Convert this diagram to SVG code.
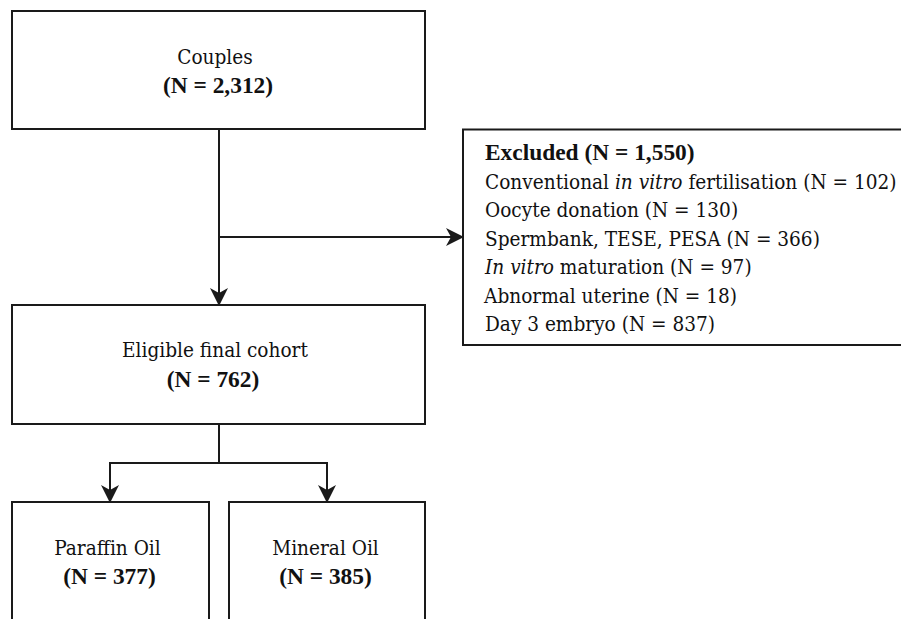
<svg xmlns="http://www.w3.org/2000/svg" width="901" height="619" viewBox="0 0 901 619">
<style>
.box{fill:#fff;stroke:#1a1a1a;stroke-width:2}
.ln{fill:none;stroke:#1a1a1a;stroke-width:2}
text{font-family:"DejaVu Serif Condensed","DejaVu Serif",serif;font-stretch:condensed;font-size:20.6px;fill:#111}
.c{text-anchor:middle}
.b{font-family:"Liberation Serif","DejaVu Serif",serif;font-stretch:normal;font-size:23.4px;font-weight:700}
.i{font-style:italic}
</style>
<defs>
<marker id="ah" markerUnits="userSpaceOnUse" viewBox="0 0 18 18" refX="17" refY="9" markerWidth="18" markerHeight="18" orient="auto">
<path d="M0,0 L18,9 L0,18 L5,9 Z" fill="#1a1a1a"/>
</marker>
</defs>
<rect width="901" height="619" fill="#fff"/>
<g id="connectors">
<path class="ln" d="M219,129 V305" marker-end="url(#ah)"/>
<path class="ln" d="M219,237 H463" marker-end="url(#ah)"/>
<path class="ln" d="M219,424 V463 H110 V502" marker-end="url(#ah)"/>
<path class="ln" d="M219,463 H327 V502" marker-end="url(#ah)"/>
</g>
<g id="couples">
<rect class="box" x="12" y="11" width="413" height="118"/>
<text class="c" x="215" y="63.5">Couples</text>
<text class="c b" x="218" y="93">(N = 2,312)</text>
</g>
<g id="excluded">
<rect class="box" x="463" y="129.5" width="460" height="215.5"/>
<text class="b" x="485" y="160">Excluded (N = 1,550)</text>
<text x="485" y="188.5">Conventional <tspan class="i">in vitro</tspan> fertilisation (N = 102)</text>
<text x="485" y="217">Oocyte donation (N = 130)</text>
<text x="485" y="245.5">Spermbank, TESE, PESA (N = 366)</text>
<text x="485" y="274"><tspan class="i">In vitro</tspan> maturation (N = 97)</text>
<text x="484" y="302.5">Abnormal uterine (N = 18)</text>
<text x="485" y="331">Day 3 embryo (N = 837)</text>
</g>
<g id="eligible">
<rect class="box" x="12" y="305" width="413" height="119"/>
<text class="c" x="215" y="357">Eligible final cohort</text>
<text class="c b" x="213" y="387">(N = 762)</text>
</g>
<g id="paraffin">
<rect class="box" x="12" y="502" width="197" height="140"/>
<text class="c" x="107.5" y="555">Paraffin Oil</text>
<text class="c b" x="109.5" y="584">(N = 377)</text>
</g>
<g id="mineral">
<rect class="box" x="229" y="502" width="196" height="140"/>
<text class="c" x="325.5" y="555">Mineral Oil</text>
<text class="c b" x="325.5" y="584">(N = 385)</text>
</g>
</svg>
